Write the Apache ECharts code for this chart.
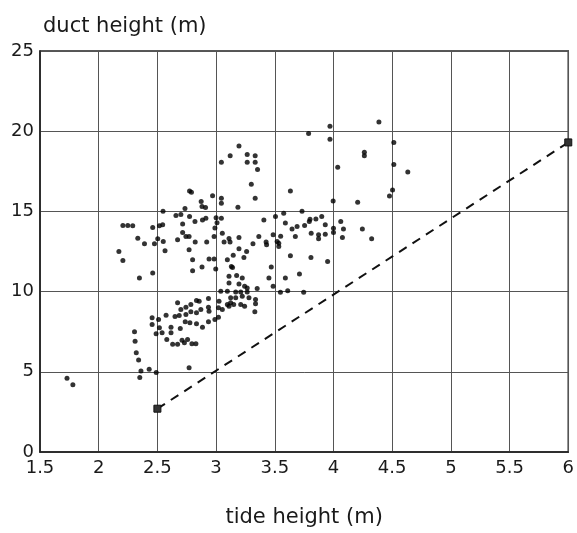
<!DOCTYPE html>
<html>
<head>
<meta charset="utf-8">
<script src="https://cdn.jsdelivr.net/npm/echarts@6/dist/echarts.min.js"></script>
<style>html,body{margin:0;padding:0;background:#fff}#c{width:577px;height:533px}</style>
</head>
<body>
<div id="c"></div>
<script>
var yTitle = 'duct height (m)';
var xTitle = 'tide height (m)';
var xTicks = [1.5, 2, 2.5, 3, 3.5, 4, 4.5, 5, 5.5, 6];
var yTicks = [0, 5, 10, 15, 20, 25];

var tideHeight = [
3.195,3.12,3.045,3.265,3.265,3.333,3.333,3.353,3.30,3.333,3.186,
3.788,3.97,3.97,4.387,4.514,4.263,4.263,4.036,4.514,4.633,4.503,4.477,3.997,4.206,3.633,3.732,
2.774,2.79,2.97,3.045,3.045,2.873,2.88,2.91,2.548,2.735,2.658,2.70,2.774,2.82,2.884,2.913,3.0,3.045,3.008,2.715,2.715,2.545,2.517,2.46,2.206,2.248,2.29,2.99,
2.333,2.39,2.475,2.503,2.55,2.672,2.743,2.77,2.822,2.92,2.983,3.053,3.068,3.119,3.11,3.195,3.314,3.364,3.426,3.486,3.534,3.43,3.52,
3.407,3.506,3.576,3.59,3.647,3.69,3.754,3.794,3.80,3.85,3.90,3.93,3.675,3.81,3.873,3.873,3.93,4.0,4.0,4.062,4.085,4.076,4.246,4.325,3.55,
2.172,2.206,2.347,2.46,2.565,2.77,2.80,2.88,2.80,2.94,2.983,2.997,3.195,3.26,3.146,3.237,3.096,3.633,3.808,3.95,3.13,3.14,3.47,3.11,3.175,3.223,3.45,3.59,3.71,3.534,
3.11,3.195,3.243,3.265,3.35,3.486,3.096,3.167,3.21,3.265,3.548,3.61,3.746,3.04,
3.124,3.167,3.223,3.28,3.336,3.124,3.15,3.21,3.243,3.336,3.11,3.33,3.096,
2.672,2.70,2.743,2.785,2.833,2.856,2.935,3.025,2.686,2.743,2.785,2.833,2.87,2.935,2.94,3.02,3.053,
2.455,2.51,2.574,2.65,
2.455,2.517,2.616,2.695,2.737,2.777,2.833,2.884,2.935,2.99,3.02,
2.489,2.54,2.616,
2.58,2.63,2.672,2.71,2.757,2.794,2.828,2.73,
2.305,2.31,2.32,2.34,2.36,2.43,2.49,2.35,2.77,
1.73,1.78
];
var ductHeight = [
19.07,18.47,18.06,18.55,18.06,18.47,18.06,17.62,16.69,15.82,15.26,
19.86,20.31,19.5,20.58,19.3,18.68,18.47,17.76,17.93,17.45,16.34,15.96,15.65,15.57,16.27,15.01,
16.27,16.2,15.98,15.82,15.51,15.61,15.3,15.24,15.01,15.18,14.74,14.80,14.68,14.37,14.47,14.58,14.61,14.58,14.3,14.22,13.69,14.16,14.1,13.99,14.12,14.12,14.1,13.96,
13.33,12.98,12.98,13.29,13.12,13.23,13.43,13.43,13.09,13.09,13.43,13.64,13.09,13.09,13.31,13.37,12.98,13.43,13.09,13.54,13.02,12.92,13.12,
14.47,14.68,14.89,14.27,13.91,14.06,14.12,14.37,14.51,14.53,14.68,14.16,13.43,13.64,13.54,13.29,13.58,13.68,13.95,14.37,13.91,13.37,13.91,13.29,13.45,
12.5,11.94,10.85,11.16,12.55,12.61,11.99,11.53,11.3,12.03,12.03,11.41,12.67,12.5,12.26,12.13,11.99,12.24,12.13,11.88,11.57,11.5,11.53,10.95,11.01,10.85,10.85,10.85,11.1,12.81,
10.54,10.48,10.33,10.23,10.19,10.33,10.02,9.98,9.98,9.98,9.96,10.06,9.96,10.02,
9.61,9.61,9.71,9.61,9.5,9.3,9.19,9.19,9.09,9.25,9.09,8.74,9.19,
9.3,8.88,9.02,9.19,9.44,9.4,9.57,9.4,8.51,8.57,8.74,8.68,8.88,9.02,8.78,8.99,8.88,
8.37,8.26,8.53,8.45,
7.95,7.75,7.78,7.7,8.12,8.06,7.99,7.78,8.12,8.26,8.4,
7.37,7.43,7.43,
7.02,6.71,6.71,6.96,7.02,6.75,6.75,6.81,
7.5,6.91,6.19,5.73,5.05,5.16,4.95,4.64,5.26,
4.6,4.2
];
var refLineX = [2.5, 6];
var refLineY = [2.7, 19.3];

var pts = tideHeight.map(function (x, i) { return [x, ductHeight[i]]; });
var refPts = refLineX.map(function (x, i) { return [x, refLineY[i]]; });

var font = '"DejaVu Sans", Verdana, sans-serif';
var chart = echarts.init(document.getElementById('c'), null, {renderer: 'canvas'});
chart.setOption({
  animation: false,
  backgroundColor: '#fff',
  title: {
    text: yTitle, left: 38, top: 11,
    textStyle: {fontFamily: font, fontSize: 21, fontWeight: 'normal', color: '#1a1a1a'}
  },
  grid: {left: 40, right: 7, top: 51, bottom: 80, show: true, borderColor: '#222', borderWidth: 1.5},
  xAxis: {
    type: 'value', min: xTicks[0], max: xTicks[xTicks.length - 1], interval: 0.5,
    name: xTitle, nameLocation: 'middle', nameGap: 55,
    nameTextStyle: {fontFamily: font, fontSize: 21, color: '#1a1a1a'},
    axisLine: {show: true, lineStyle: {color: '#222', width: 1.5}},
    axisTick: {show: false},
    axisLabel: {fontFamily: font, fontSize: 18, color: '#1a1a1a', margin: 7,
      formatter: function (v) { return String(v); }},
    splitLine: {show: true, lineStyle: {color: '#555', width: 1}}
  },
  yAxis: {
    type: 'value', min: yTicks[0], max: yTicks[yTicks.length - 1], interval: 5,
    axisLine: {show: true, lineStyle: {color: '#222', width: 1.5}},
    axisTick: {show: false},
    axisLabel: {fontFamily: font, fontSize: 18, color: '#1a1a1a', margin: 6},
    splitLine: {show: true, lineStyle: {color: '#555', width: 1}}
  },
  series: [
    {
      type: 'scatter', data: pts, symbol: 'circle', symbolSize: 5,
      itemStyle: {color: '#000'}
    },
    {
      type: 'line', data: refPts, symbol: 'rect', symbolSize: 7, showSymbol: true,
      clip: false,
      lineStyle: {color: '#111', width: 2, type: [9, 7]},
      itemStyle: {color: '#333', borderColor: '#111', borderWidth: 1}
    }
  ]
});
</script>
</body>
</html>
